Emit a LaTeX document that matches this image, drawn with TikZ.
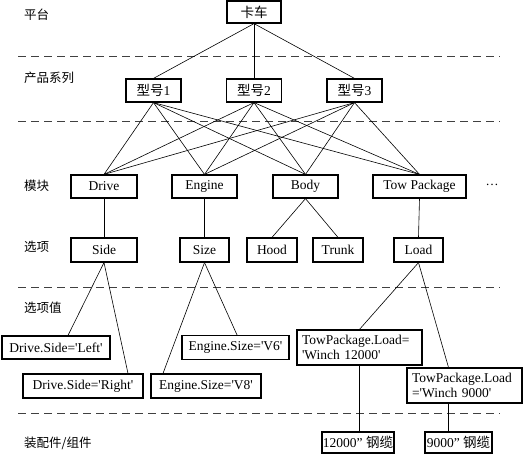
\documentclass[tikz,border=0pt]{standalone}
\usepackage{fontspec}
\setmainfont{Liberation Serif}
\newfontfamily\cjk{Noto Sans CJK SC}
\usetikzlibrary{positioning}
\newcommand{\sq}{\textquotesingle}

\begin{document}
\begin{tikzpicture}[x=1pt, y=-1pt,
    box/.style={draw, line width=1.2pt, inner sep=0pt, font=\fontsize{13.5}{15.5}\selectfont},
    valbox/.style={box, align=left, inner xsep=5pt},
    link/.style={line width=0.6pt},
    level/.style={dash pattern=on 8pt off 5pt, line width=0.8pt, black!75},
    tier/.style={anchor=west, inner sep=0pt, font=\fontsize{12.5}{14}\selectfont\cjk}]

    \useasboundingbox (0,0) rectangle (523,455);

    % Level separators
    \foreach \y in {56,121,287,413} {
        \draw[level] (18,\y) -- (500,\y);
    }

    % Tier labels
    \node[tier] (tplatform) at (24,15) {平台};
    \node[tier] (tseries) at (24,78) {产品系列};
    \node[tier] (tmodule) at (24,186) {模块};
    \node[tier] (toption) at (24,247) {选项};
    \node[tier] (tvalue) at (24,308) {选项值};
    \node[tier] (tpart) at (24,443) {装配件/组件};

    % Platform and models
    \node[box, minimum width=54pt, minimum height=22pt] (truck) at (254,12) {\cjk 卡车};
    \foreach \i/\x in {1/153.5, 2/254, 3/354.5} {
        \node[box, minimum width=55pt, minimum height=23pt] (model\i) at (\x,90.5) {{\cjk 型号}\i};
    }

    % Modules
    \node[box, minimum width=66pt, minimum height=23pt] (drive) at (104,186.5) {Drive};
    \node[box, minimum width=65pt, minimum height=23pt] (engine) at (204.5,186.5) {Engine};
    \node[box, minimum width=65pt, minimum height=23pt] (body) at (305.5,186.5) {Body};
    \node[box, minimum width=93pt, minimum height=23pt] (tow) at (419.5,186.5) {Tow Package};
    \node[font=\fontsize{13}{15}\selectfont] (more) at (492,185) {\dots};

    % Options
    \node[box, minimum width=66pt, minimum height=24pt] (side) at (104,250) {Side};
    \node[box, minimum width=49pt, minimum height=24pt] (size) at (204.5,250) {Size};
    \node[box, minimum width=50pt, minimum height=24pt] (hood) at (272,250) {Hood};
    \node[box, minimum width=50pt, minimum height=24pt] (trunk) at (338,250) {Trunk};
    \node[box, minimum width=49pt, minimum height=24pt] (load) at (418.5,250) {Load};

    % Option values
    \node[box, minimum width=108pt, minimum height=23pt] (left) at (56,347.5) {Drive.Side=\sq Left\sq};
    \node[box, minimum width=120pt, minimum height=24pt] (right) at (83,386) {Drive.Side=\sq Right\sq};
    \node[box, minimum width=107pt, minimum height=24pt] (vsix) at (235.5,347.5) {Engine.Size=\sq V6\sq};
    \node[box, minimum width=110pt, minimum height=24pt] (veight) at (206,386) {Engine.Size=\sq V8\sq};
    \node[valbox, minimum width=125pt, minimum height=35pt, text width=115pt] (winchA) at (359.5,347.5)
        {TowPackage.Load=\\\sq Winch 12000\sq};
    \node[valbox, minimum width=115pt, minimum height=35pt, text width=105pt] (winchB) at (464.5,385.5)
        {TowPackage.Load\\=\sq Winch 9000\sq};

    % Parts
    \node[box, minimum width=72pt, minimum height=21pt] (cableA) at (358,442.5) {12000” {\cjk 钢缆}};
    \node[box, minimum width=67pt, minimum height=21pt] (cableB) at (458.5,442.5) {9000” {\cjk 钢缆}};

    % Platform to models
    \foreach \i in {1,2,3} {
        \draw[link] (truck.south) -- (model\i.north);
    }

    % Models to modules
    \foreach \i in {1,2,3} {
        \foreach \m in {drive,engine,body,tow} {
            \draw[link] (model\i.south) -- (\m.north);
        }
    }

    % Modules to options
    \draw[link] (drive.south) -- (side.north);
    \draw[link] (engine.south) -- (size.north);
    \draw[link] (body.south) -- (hood.north);
    \draw[link] (body.south) -- (trunk.north);
    \draw[link] (tow.south) -- (load.north);

    % Options to values
    \draw[link] (side.south) -- ([xshift=12pt]left.north);
    \draw[link] (side.south) -- ([xshift=45pt]right.north);
    \draw[link] (size.south) -- ([xshift=1.5pt]vsix.north);
    \draw[link] (size.south) -- ([xshift=-43pt]veight.north);
    \draw[link] (load.south) -- (winchA.north);
    \draw[link] (load.south) -- ([xshift=-16pt]winchB.north);

    % Values to parts
    \draw[link] (winchA.south) -- (winchA.south |- cableA.north);
    \draw[link] ([xshift=-16pt]winchB.south) -- ([xshift=-16pt]winchB.south |- cableB.north);

\end{tikzpicture}
\end{document}
